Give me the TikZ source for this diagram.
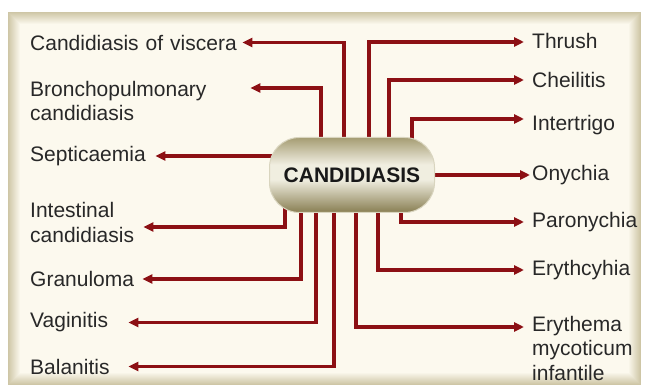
\documentclass[tikz,border=0pt]{standalone}
\usepackage{fontspec}
\setmainfont{Liberation Sans}
\usetikzlibrary{arrows.meta}
\definecolor{linkred}{RGB}{140,16,20}
\definecolor{edge}{RGB}{206,198,166}
\definecolor{paper}{RGB}{252,249,238}
\definecolor{pilltop}{RGB}{165,156,115}
\definecolor{pillmid}{RGB}{240,238,224}
\definecolor{pillbot}{RGB}{136,126,82}
\definecolor{ink}{RGB}{40,40,40}
\pgfdeclareverticalshading{pillshade}{100bp}{color(0bp)=(pillbot); color(25bp)=(pillbot); color(47bp)=(pillmid); color(57bp)=(pillmid); color(75bp)=(pilltop); color(100bp)=(pilltop)}
\pgfdeclarelayer{back}
\pgfdeclarelayer{lines}
\pgfsetlayers{back,lines,main}
\begin{document}
\begin{tikzpicture}[x=1pt, y=-1pt,
  lbl/.style={anchor=west, inner sep=0pt, align=left, text=ink, font=\fontsize{21}{24.5}\selectfont},
  link/.style={draw=linkred, line width=3.5pt, -{Triangle[length=10pt,width=9pt]}},
  rlink/.style={link, shorten >=8pt}]
\useasboundingbox (0,0) rectangle (649,385);
\begin{pgfonlayer}{back}
\fill[white] (0,0) rectangle (649,385);
\foreach \i [evaluate=\i as \m using 100*\i/12] in {0,...,12} \fill[paper!\m!edge] (8+\i,12+\i) rectangle (641-\i,385-\i);
\end{pgfonlayer}
\node[draw=pillmid!70!pilltop, line width=1pt, shading=pillshade, minimum width=165pt, minimum height=75pt, rounded corners=30pt, text=black!90, font=\fontsize{21}{24}\selectfont\bfseries] (pill) at (352,175) {CANDIDIASIS};
\node[lbl, text width=212pt] (viscera) at (30,42.5) {Candidiasis of viscera};
\node[lbl, text width=220pt] (broncho) at (30,101) {Bronchopulmonary\\candidiasis};
\node[lbl, text width=125pt] (septic) at (30,156) {Septicaemia};
\node[lbl, text width=113pt] (intest) at (30,222.5) {Intestinal\\candidiasis};
\node[lbl, text width=112pt] (granul) at (30,279) {Granuloma};
\node[lbl, text width=98pt] (vagin) at (30,322.5) {Vaginitis};
\node[lbl, text width=98pt] (balan) at (30,366.5) {Balanitis};
\node[lbl] (thrush) at (532,41) {Thrush};
\node[lbl] (cheil) at (532,80) {Cheilitis};
\node[lbl] (inter) at (532,125.5) {Intertrigo};
\node[lbl] (onych) at (532,175) {Onychia};
\node[lbl] (paron) at (532,222) {Paronychia};
\node[lbl] (erythc) at (532,270) {Erythcyhia};
\node[lbl] (erythm) at (532,348) {Erythema\\mycoticum\\infantile};
\begin{pgfonlayer}{lines}
\draw[link] ([xshift=-8pt]pill.center) |- (viscera.east);
\draw[link] ([xshift=-31pt]pill.center) |- ([yshift=13pt]broncho.east);
\draw[link] (pill.center |- septic.east) -- (septic.east);
\draw[link] ([xshift=-67pt]pill.center) |- ([yshift=-4.5pt]intest.east);
\draw[link] ([xshift=-51pt]pill.center) |- (granul.east);
\draw[link] ([xshift=-36pt]pill.center) |- (vagin.east);
\draw[link] ([xshift=-18pt]pill.center) |- (balan.east);
\draw[rlink] ([xshift=17pt]pill.center) |- ([yshift=-1pt]thrush.west);
\draw[rlink] ([xshift=37pt]pill.center) |- (cheil.west);
\draw[rlink] ([xshift=60pt]pill.center) |- ([yshift=6.5pt]inter.west);
\draw[link, shorten >=2pt] (pill.center |- onych.west) -- (onych.west);
\draw[rlink] ([xshift=49pt]pill.center) |- (paron.west);
\draw[rlink] ([xshift=26pt]pill.center) |- (erythc.west);
\draw[rlink] ([xshift=4pt]pill.center) |- ([yshift=21pt]erythm.west);
\end{pgfonlayer}
\end{tikzpicture}
\end{document}
